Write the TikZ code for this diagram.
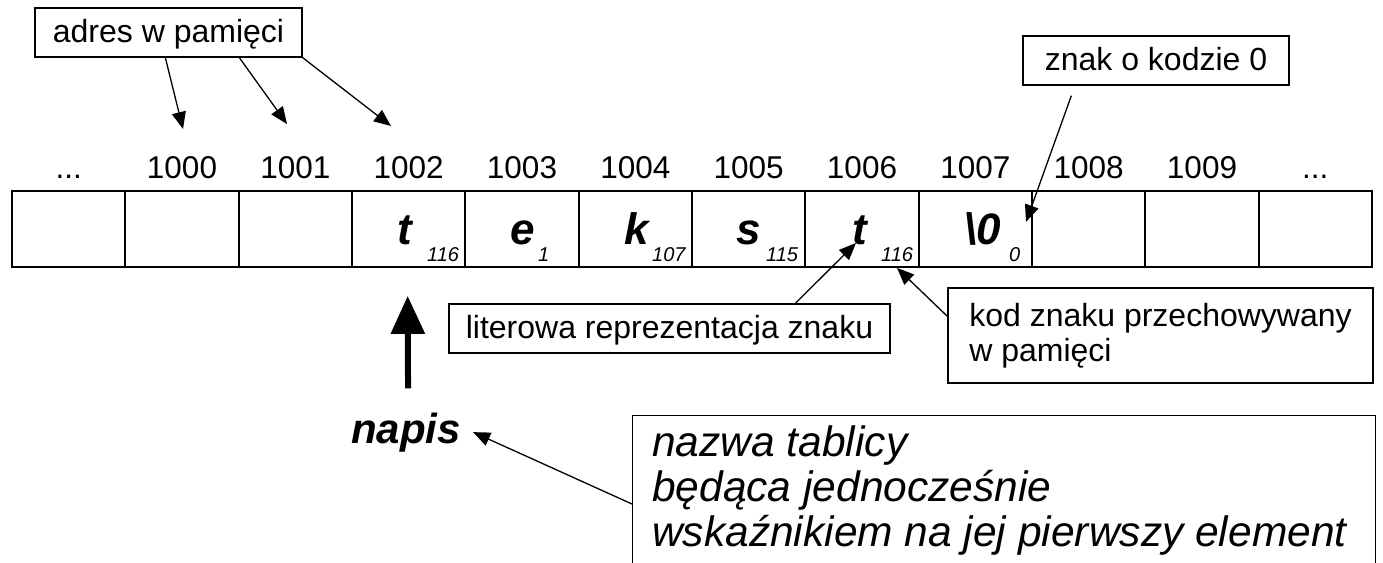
\documentclass[tikz,border=0pt]{standalone}
\usepackage{fontspec}
\setmainfont{Liberation Sans}
\usetikzlibrary{arrows.meta,calc}
\def\mydots{...}
\begin{document}
\begin{tikzpicture}[x=1pt,y=-1pt,
  lab/.style={font=\fontsize{31.5}{35}\selectfont, inner sep=0pt, anchor=base},
  lbox/.style={draw, line width=1.3pt, font=\fontsize{32}{35}\selectfont, inner sep=0pt, text height=24pt, text depth=5pt},
  cell/.style={draw, line width=1.8pt, minimum width=113.333pt, minimum height=76pt, inner sep=0pt},
  chr/.style={font=\fontsize{44}{50}\selectfont\bfseries\itshape, inner sep=0pt, anchor=base},
  sub/.style={font=\fontsize{20}{22}\selectfont\itshape, inner sep=0pt, anchor=base west},
  conn/.style={line width=1.3pt, -{Triangle[length=17pt,width=14pt]}},
]
\useasboundingbox (0,0) rectangle (1383,562);
% memory cells
\foreach \i in {0,...,11}
  \node[cell] (c\i) at ({12+113.333*(\i+0.5)},229) {};
% address labels
\foreach \i/\t in {0/\mydots,1/1000,2/1001,3/1002,4/1003,5/1004,6/1005,7/1006,8/1007,9/1008,10/1009,11/\mydots}
  \node[lab] (n\i) at ({12+113.333*(\i+0.5)},178) {\t};
% characters
\node[chr] (ch3) at (405,244) {t};
\node[sub] (sb3) at (427,261) {116};
\node[chr] (ch4) at (523,244) {e};
\node[sub] (sb4) at (538,261) {1};
\node[chr] (ch5) at (637,244) {k};
\node[sub] (sb5) at (652,261) {107};
\node[chr] (ch6) at (749,244) {s};
\node[sub] (sb6) at (766,261) {115};
\node[chr] (ch7) at (860,244) {t};
\node[sub] (sb7) at (881,261) {116};
\node[chr] (ch8) at (983,244) {\textbackslash0};
\node[sub] (sb8) at (1009,261) {0};
% label boxes
\node[lbox, minimum width=267pt, minimum height=49pt] (adres) at (168.5,32.5) {adres w pamięci};
\node[lbox, minimum width=266pt, minimum height=49pt] (znak) at (1156,60.5) {znak o kodzie 0};
\node[lbox, minimum width=441pt, minimum height=49pt] (lit) at (669.5,328.5) {literowa reprezentacja znaku};
\node[draw, line width=1.3pt, font=\fontsize{32}{35}\selectfont, align=left, inner sep=0pt,
      minimum width=425pt, minimum height=95pt] (kod) at (1160.5,335.5) {kod znaku przechowywany\\w pamięci};
\node[draw, line width=1.3pt, minimum width=743pt, minimum height=200pt, anchor=north west, inner sep=0pt] (opisbox) at (632,415) {};
\node[font=\fontsize{42.5}{45}\selectfont\itshape, align=left, anchor=north west, inner sep=0pt] (opis) at (652,425)
  {nazwa tablicy\\będąca jednocześnie\\wskaźnikiem na jej pierwszy element};
\node[font=\fontsize{42}{46}\selectfont\bfseries\itshape, inner sep=0pt, anchor=base west] (napis) at (351,443) {napis};
% arrow end points
\coordinate (a1) at (183,129);
\coordinate (a2) at (287,124);
\coordinate (a3) at (391,126);
\coordinate (zt) at (1026,222);
\coordinate (lt) at (856,243);
% connectors
\draw[conn] ($(adres.south west)+(131,0)$) -- (a1);
\draw[conn] ($(adres.south west)+(205,0)$) -- (a2);
\draw[conn] (adres.south east) -- (a3);
\draw[conn] ($(znak.south west)+(49,10)$) -- (zt);
\draw[conn] ($(lit.north west)+(347,0)$) -- (lt);
\draw[conn] ($(kod.north west)+(0,29)$) -- ($(c7.south)+(35,0)$);
\draw[conn] ($(opisbox.north west)+(0,89)$) -- ([xshift=12pt]napis.east);
\draw[line width=6pt, -{Triangle[length=38pt,width=33pt]}] ($(napis.north)+(2,-24)$) -- ($(c3.south)+(-1,28)$);
\end{tikzpicture}
\end{document}
